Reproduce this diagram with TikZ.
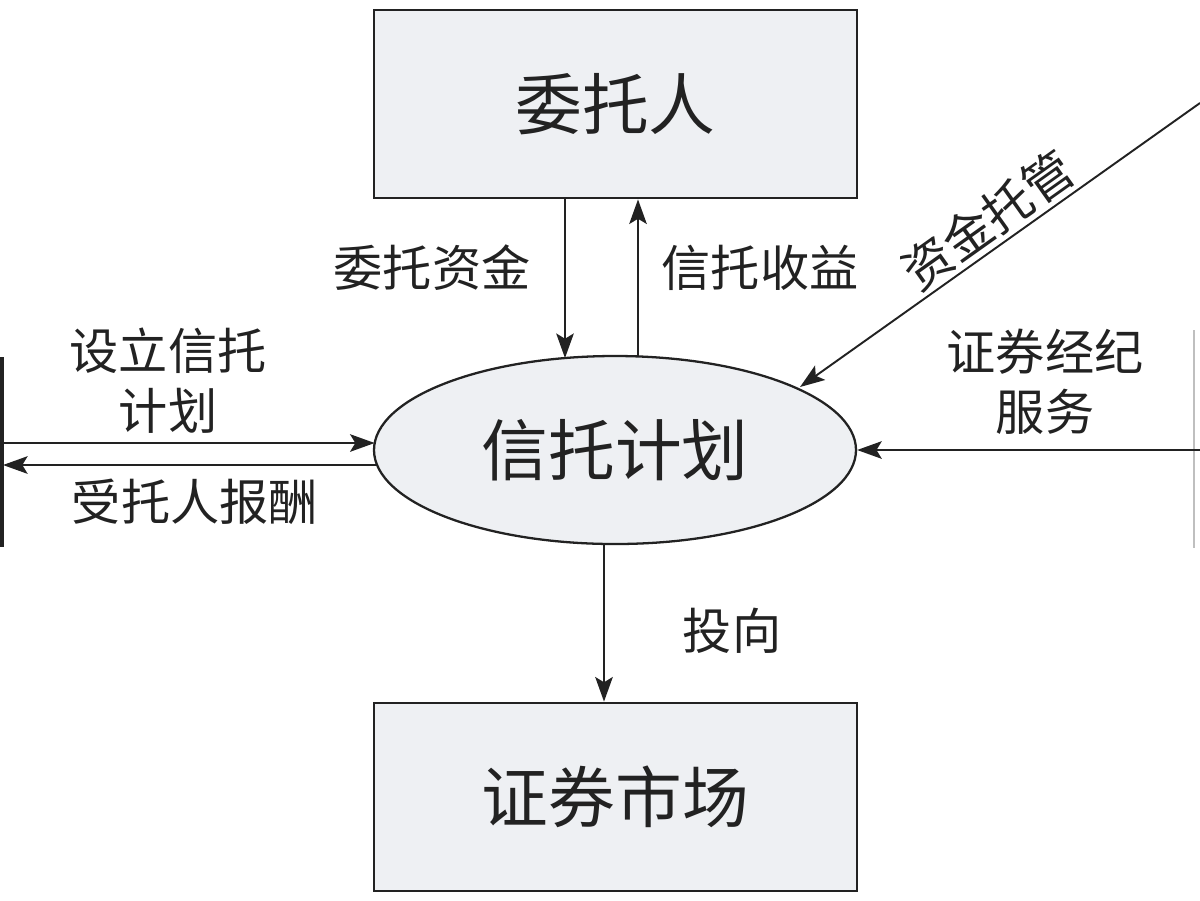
\documentclass[tikz,border=0pt]{standalone}
\usepackage{fontspec}
\setmainfont{Noto Sans CJK SC}
\usetikzlibrary{arrows.meta,shapes.geometric,calc}
\definecolor{boxfill}{HTML}{EEF0F3}
\definecolor{ink}{HTML}{222222}
\tikzset{
  entbox/.style={draw=ink,line width=1.6pt,fill=boxfill,minimum width=9.66cm,minimum height=3.76cm,inner sep=0pt,font=\fontsize{38}{40}\selectfont,text=ink},
  planell/.style={ellipse,draw=ink,line width=1.3pt,fill=boxfill,minimum width=9.64cm,minimum height=3.76cm,inner sep=0pt,font=\fontsize{38}{40}\selectfont,text=ink},
  flow/.style={draw=ink,line width=1.1pt,-{Stealth[length=14pt,width=10pt,inset=3pt]}},
  lbl/.style={font=\fontsize{28}{34}\selectfont,text=ink,inner sep=0pt,align=center}
}
\begin{document}
\begin{tikzpicture}
\useasboundingbox (0,0) rectangle (24,-18);
\node[entbox] (wtr) at (12.31,-2.08) {委托人};
\node[entbox] (zqsc) at (12.31,-15.94) {证券市场};
\node[planell] (xt) at (12.3,-9.0) {信托计划};
% points on ellipse border
\coordinate (eA) at ($(xt.center)+(-1.0,1.839)$);
\coordinate (eB) at ($(xt.center)+(0.46,1.871)$);
\coordinate (eC) at ($(xt.center)+(-0.22,-1.88)$);
\coordinate (eL1) at ($(xt.center)+(-4.807,0.14)$);
\coordinate (eL2) at ($(xt.center)+(-4.758,-0.30)$);
\coordinate (eD) at (16.0,-7.74);
% outside ends
\coordinate (barTop) at (0.04,-7.14);
\coordinate (barBot) at (0.04,-10.94);
\coordinate (L1) at (0.06,-8.86);
\coordinate (L2) at (0.06,-9.30);
\coordinate (R1) at (24,-9.0);
\coordinate (R2) at (24,-2.06);
\coordinate (rTop) at (23.88,-6.6);
\coordinate (rBot) at (23.88,-10.96);
% partial boxes at edges
\draw[ink,line width=2.2pt] (barTop) -- (barBot);
\draw[black!25,line width=0.6pt] (rTop) -- (rBot);
% connectors
\draw[flow] (wtr.south -| eA) -- (eA);
\draw[flow] (eB) -- (wtr.south -| eB);
\draw[flow] (eC) -- (zqsc.north -| eC);
\draw[flow] (L1) -- (eL1);
\draw[flow] (eL2) -- (L2);
\draw[flow] (R1) -- (xt.east);
\draw[flow] (R2) -- (eD);
% labels
\node[lbl] (l1) at (8.64,-5.36) {委托资金};
\node[lbl] (l2) at (15.2,-5.36) {信托收益};
\node[lbl,rotate=35.4] (l3) at (19.75,-4.4) {资金托管};
\node[lbl] (l4) at (20.9,-7.64) {证券经纪\\服务};
\node[lbl] (l5) at (3.36,-7.62) {设立信托\\计划};
\node[lbl] (l6) at (3.9,-10.04) {受托人报酬};
\node[lbl] (l7) at (14.64,-12.62) {投向};
\end{tikzpicture}
\end{document}
